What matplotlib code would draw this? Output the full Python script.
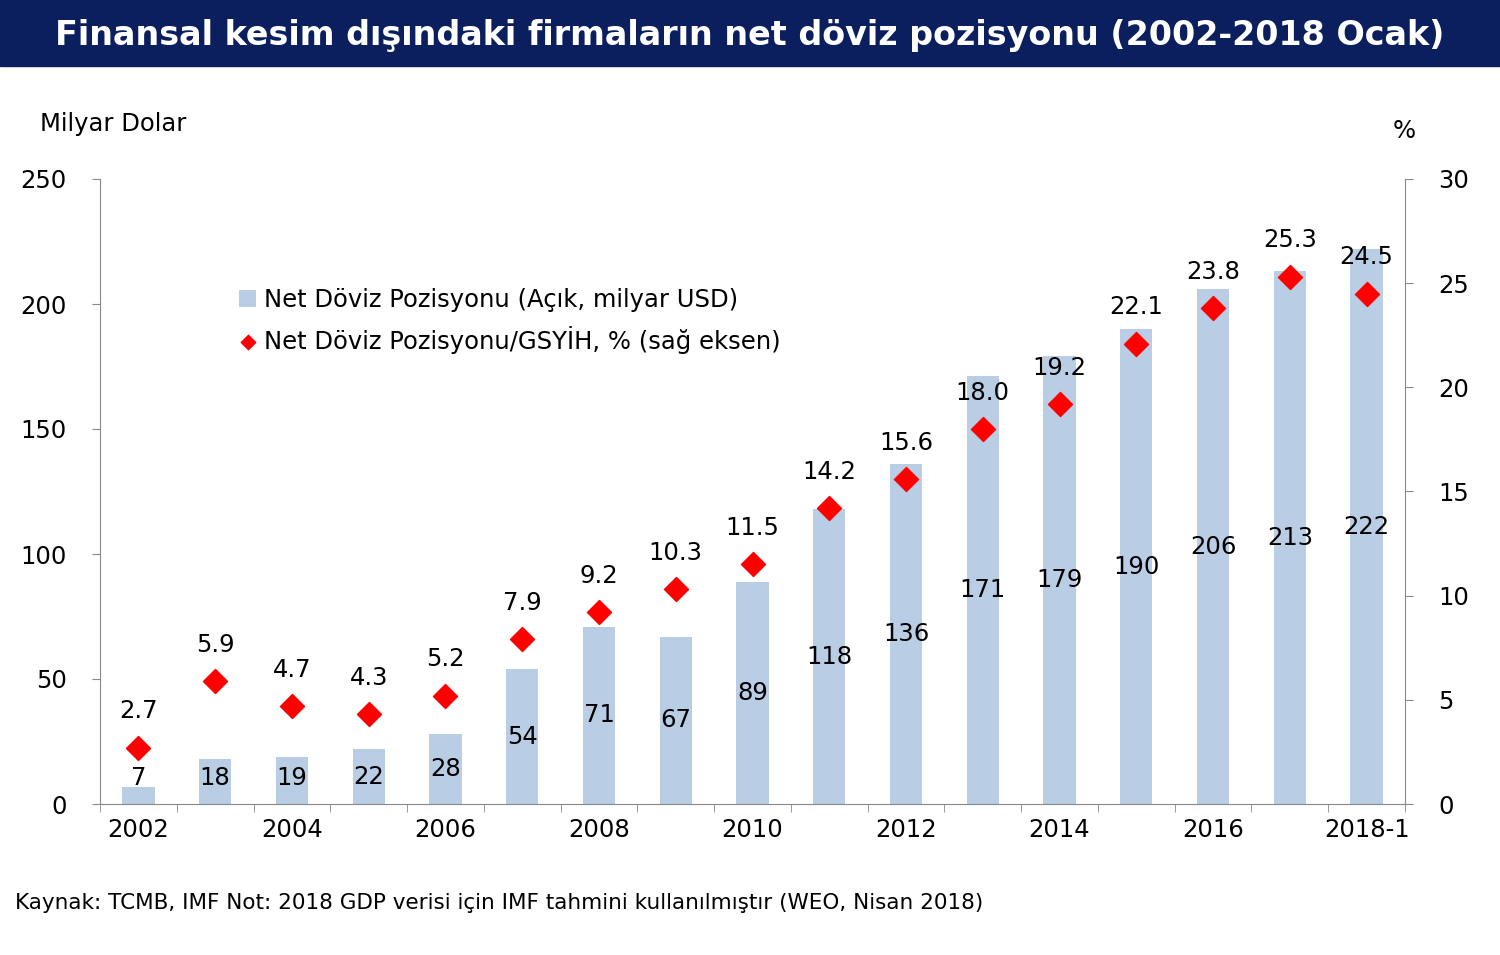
import matplotlib
matplotlib.use("Agg")
import matplotlib.pyplot as plt
import numpy as np

categories = [str(y) for y in range(2002, 2018)] + ["2018-1"]
tick_labels = ["2002", "", "2004", "", "2006", "", "2008", "", "2010", "", "2012", "", "2014", "", "2016", "", "2018-1"]
bars = [7, 18, 19, 22, 28, 54, 71, 67, 89, 118, 136, 171, 179, 190, 206, 213, 222]
ratio = [2.7, 5.9, 4.7, 4.3, 5.2, 7.9, 9.2, 10.3, 11.5, 14.2, 15.6, 18.0, 19.2, 22.1, 23.8, 25.3, 24.5]

plt.rcParams['font.family'] = ['DejaVu Sans']
fig = plt.figure(figsize=(15, 9.55), dpi=100)
W, H = 1500, 955
FS = 17.5
ax = fig.add_axes([100/W, 1-804/H, 1305/W, 625/H])
x = np.arange(len(categories))
ax.bar(x, bars, width=0.42, color='#b9cde5', label='Net Döviz Pozisyonu (Açık, milyar USD)', zorder=2)
for xi, v in zip(x, bars):
    ax.text(xi, max(v/2, 10.5), f"{v}", ha='center', va='center', fontsize=FS, zorder=5)
ax.set_xlim(-0.5, len(x)-0.5)
ax.set_ylim(0, 250)
ax.set_yticks(range(0, 251, 50))
ax.set_xticks(x)
ax.set_xticklabels(tick_labels, fontsize=FS)
ax.set_xticks(np.arange(-0.5, len(x), 1), minor=True)
ax.tick_params(axis='x', which='major', length=0, pad=10)
ax.tick_params(axis='x', which='minor', length=6, color='#888888')
ax.tick_params(axis='y', labelsize=FS, length=6, color='#888888', pad=18)
for s in ['top', 'right']:
    ax.spines[s].set_visible(False)
for s in ['left', 'bottom']:
    ax.spines[s].set_color('#888888')

ax2 = ax.twinx()
ax2.set_ylim(0, 30)
ax2.set_yticks(range(0, 31, 5))
ax2.tick_params(axis='y', labelsize=FS, length=6, color='#888888', pad=18)
for s in ['top', 'left', 'bottom']:
    ax2.spines[s].set_visible(False)
ax2.spines['right'].set_color('#888888')
ax2.scatter(x, ratio, marker='D', s=150, color='#ff0000', zorder=4, label='Net Döviz Pozisyonu/GSYİH, % (sağ eksen)')
for xi, v in zip(x, ratio):
    ax2.text(xi, v + 1.75, f"{v:.1f}", ha='center', va='center', fontsize=FS)

h1, l1 = ax.get_legend_handles_labels()
h2, l2 = ax2.get_legend_handles_labels()
leg = ax2.legend(h1 + h2, l1 + l2, loc='upper left', bbox_to_anchor=(0.09, 0.86), frameon=False,
                 fontsize=FS, handlelength=0.7, handletextpad=0.3, labelspacing=0.55, markerscale=0.6)

fig.patches.append(plt.Rectangle((0, 1-66/H), 1, 66/H, transform=fig.transFigure, color='#0b1f5e', zorder=0))
fig.text(0.5, 1-35/H, "Finansal kesim dışındaki firmaların net döviz pozisyonu (2002-2018 Ocak)",
         ha='center', va='center', color='white', fontsize=24, fontweight='bold')
fig.text(40/W, 1-124/H, "Milyar Dolar", ha='left', va='center', fontsize=FS)
fig.text(1404/W, 1-131/H, "%", ha='center', va='center', fontsize=FS)
fig.text(15/W, 1-903/H, "Kaynak: TCMB, IMF Not: 2018 GDP verisi için IMF tahmini kullanılmıştır (WEO, Nisan 2018)",
         ha='left', va='center', fontsize=15.5)
fig.savefig("out.png", dpi=100)
